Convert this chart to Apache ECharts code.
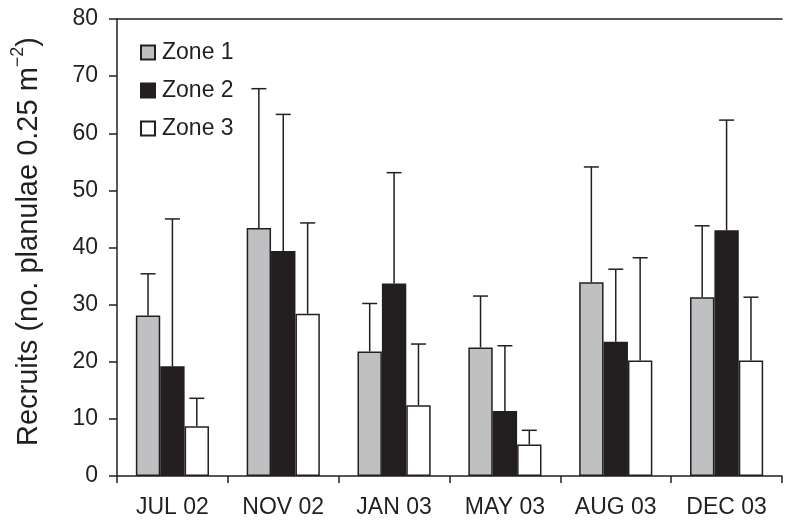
<!DOCTYPE html>
<html>
<head>
<meta charset="utf-8">
<script src="https://cdn.jsdelivr.net/npm/echarts@6/dist/echarts.min.js"></script>
<style>
  html, body { margin: 0; padding: 0; background: #fff; }
  #chart { width: 789px; height: 520px; }
</style>
</head>
<body>
<div id="chart"></div>
<script>
// Sampling periods
const categories = ['JUL 02', 'NOV 02', 'JAN 03', 'MAY 03', 'AUG 03', 'DEC 03'];

// Mean recruits per zone
const zone1 = [28.1, 43.4, 21.8, 22.5, 33.9, 31.3];
const zone2 = [19.2, 39.4, 33.7, 11.4, 23.5, 43.0];
const zone3 = [8.7, 28.4, 12.4, 5.5, 20.2, 20.2];

// Standard deviations (upper whiskers)
const zone1Sd = [7.3, 24.4, 8.4, 9.0, 20.2, 12.5];
const zone2Sd = [25.8, 23.9, 19.4, 11.4, 12.7, 19.3];
const zone3Sd = [4.9, 15.9, 10.7, 2.5, 18.0, 11.1];

const yTicks = [0, 10, 20, 30, 40, 50, 60, 70, 80];

const ink = '#231f20';
const font = 'Liberation Sans, Arial, Helvetica, sans-serif';
const BAR_RATIO = 0.22;

const zones = [
  { name: 'Zone 1', values: zone1, sd: zone1Sd, color: '#bfc0c2' },
  { name: 'Zone 2', values: zone2, sd: zone2Sd, color: ink },
  { name: 'Zone 3', values: zone3, sd: zone3Sd, color: '#ffffff' }
];

const barSeries = zones.map(z => ({
  name: z.name,
  type: 'bar',
  data: z.values,
  barWidth: (BAR_RATIO * 100) + '%',
  barGap: '0%',
  itemStyle: { color: z.color, borderColor: ink, borderWidth: 1.5 },
  z: 2
}));

const whiskerSeries = zones.map((z, idx) => ({
  type: 'custom',
  name: z.name + ' SD',
  data: z.values.map((v, i) => [i, v, v + z.sd[i]]),
  encode: { x: 0, y: [1, 2] },
  z: 3,
  silent: true,
  renderItem(params, api) {
    const cat = api.value(0);
    const base = api.coord([cat, api.value(1)]);
    const top = api.coord([cat, api.value(2)]);
    const band = api.size([1, 0])[0];
    const x = base[0] + (idx - 1) * band * BAR_RATIO;
    const half = 7.5;
    const style = { stroke: ink, lineWidth: 1.5, fill: null };
    return {
      type: 'group',
      children: [
        { type: 'line', shape: { x1: x, y1: base[1], x2: x, y2: top[1] }, style },
        { type: 'line', shape: { x1: x - half, y1: top[1], x2: x + half, y2: top[1] }, style }
      ]
    };
  }
}));

const chart = echarts.init(document.getElementById('chart'), null, { renderer: 'canvas' });

chart.setOption({
  animation: false,
  backgroundColor: '#fff',
  textStyle: { fontFamily: font, color: ink },
  grid: { left: 117, top: 19, right: 7, bottom: 44, containLabel: false },
  legend: {
    data: zones.map(z => z.name),
    orient: 'vertical',
    left: 135,
    top: 36,
    itemWidth: 14,
    itemHeight: 14,
    itemGap: 15,
    icon: 'rect',
    textStyle: { fontSize: 23, color: ink, fontFamily: font, padding: [0, 0, 0, 2] }
  },
  xAxis: [
    {
      type: 'category',
      data: categories,
      axisLine: { show: true, lineStyle: { color: ink, width: 1.5 } },
      axisTick: { show: true, length: 7, alignWithLabel: false, lineStyle: { color: ink, width: 1.5 } },
      axisLabel: { fontSize: 23, color: ink, fontFamily: font, margin: 20 },
      splitLine: { show: false }
    },
    {
      type: 'category',
      data: categories,
      position: 'top',
      axisLine: { show: true, lineStyle: { color: ink, width: 1.5 } },
      axisTick: { show: false },
      axisLabel: { show: false },
      splitLine: { show: false }
    }
  ],
  yAxis: {
    type: 'value',
    min: yTicks[0],
    max: yTicks[yTicks.length - 1],
    interval: yTicks[1] - yTicks[0],
    name: '{base|Recruits (no. planulae 0.25 m}{sup|−2}{base|)}',
    nameLocation: 'middle',
    nameGap: 74,
    nameRotate: 90,
    nameTextStyle: {
      fontSize: 29,
      color: ink,
      fontFamily: font,
      padding: [0, 0, 0, 12],
      rich: {
        base: { fontSize: 29, fontFamily: font, color: ink, lineHeight: 34, verticalAlign: 'bottom' },
        sup: { fontSize: 18, fontFamily: font, color: ink, lineHeight: 18, verticalAlign: 'top' }
      }
    },
    axisLine: { show: true, lineStyle: { color: ink, width: 1.5 } },
    axisTick: { show: true, length: 8, lineStyle: { color: ink, width: 1.5 } },
    axisLabel: { fontSize: 23, color: ink, fontFamily: font, margin: 19 },
    splitLine: { show: false }
  },
  series: [...barSeries, ...whiskerSeries]
});
</script>
</body>
</html>
